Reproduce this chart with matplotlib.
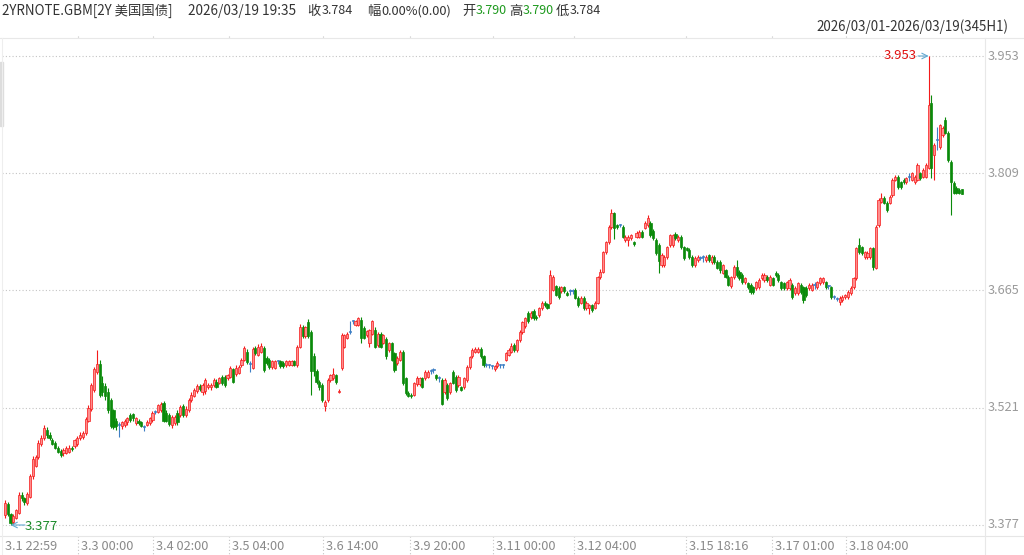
import numpy as np
import matplotlib
matplotlib.use('Agg')
import matplotlib.pyplot as plt
from matplotlib.patches import Rectangle
from matplotlib.lines import Line2D

plt.rcParams['font.family'] = ['Noto Sans CJK SC', 'DejaVu Sans']

# ---- data (prices in thousandths) ----
OPEN_M = [
3389,3403,3390,3381,3386,3392,3414,3410,3404,3412,
3437,3450,3460,3476,3484,3494,3488,3482,3478,3472,
3468,3465,3466,3467,3472,3474,3476,3484,3485,3490,
3505,3519,3543,3565,3575,3552,3548,3540,3530,3518,
3505,3500,3498,3500,3503,3512,3513,3502,3505,3503,
3497,3500,3502,3506,3516,3516,3518,3527,3515,3512,
3500,3502,3515,3512,3523,3512,3518,3530,3536,3541,
3548,3540,3541,3546,3546,3549,3553,3552,3559,3559,
3557,3559,3568,3563,3564,3573,3580,3590,3575,3570,
3594,3586,3590,3594,3582,3580,3571,3570,3578,3578,
3576,3573,3574,3574,3578,3573,3596,3620,3609,3626,
3614,3584,3566,3553,3549,3523,3530,3555,3557,3561,
3540,3570,3596,3607,3614,3627,3623,3623,3629,3619,
3610,3601,3612,3617,3598,3612,3601,3606,3592,3600,
3588,3576,3580,3590,3557,3539,3537,3537,3550,3550,
3557,3557,3559,3566,3567,3561,3557,3555,3540,3549,
3540,3565,3559,3549,3546,3546,3555,3571,3584,3590,
3590,3593,3584,3574,3573,3572,3569,3572,3573,3573,
3580,3586,3590,3598,3592,3604,3614,3621,3637,3632,
3640,3633,3635,3643,3650,3648,3650,3666,3670,3668,
3664,3669,3662,3664,3664,3666,3656,3650,3656,3643,
3644,3647,3644,3650,3681,3688,3712,3724,3743,3760,
3745,3745,3743,3727,3727,3729,3724,3731,3731,3737,
3742,3745,3748,3738,3727,3721,3696,3696,3706,3721,
3721,3735,3727,3731,3718,3717,3715,3706,3696,3702,
3705,3706,3702,3708,3700,3706,3700,3700,3687,3690,
3682,3670,3681,3694,3688,3684,3675,3674,3672,3669,
3668,3669,3680,3678,3682,3672,3680,3686,3684,3675,
3674,3668,3668,3672,3662,3662,3672,3669,3668,3668,
3666,3672,3669,3674,3675,3675,3670,3669,3657,3655,
3651,3653,3657,3657,3662,3669,3680,3721,3718,3706,
3706,3706,3717,3693,3745,3774,3779,3773,3773,3782,
3801,3805,3798,3801,3798,3804,3801,3798,3801,3809,
3805,3805,3816,3895,3831,3850,3841,3856,3874,3859,
3823,3797,3791,3789,3790]

HIGH_M = [
3408,3405,3392,3390,3397,3418,3417,3412,3418,3440,
3462,3463,3482,3488,3500,3497,3491,3484,3480,3474,
3470,3471,3474,3475,3474,3483,3486,3491,3492,3510,
3524,3552,3571,3592,3580,3560,3552,3545,3533,3520,
3508,3503,3505,3507,3510,3514,3515,3510,3507,3505,
3500,3506,3510,3517,3518,3526,3528,3529,3518,3515,
3512,3512,3518,3524,3525,3523,3533,3540,3545,3550,
3550,3551,3557,3551,3551,3557,3556,3559,3561,3561,
3563,3572,3570,3573,3574,3582,3597,3593,3578,3596,
3597,3599,3600,3597,3584,3582,3580,3580,3580,3580,
3578,3580,3580,3580,3580,3598,3624,3623,3622,3630,
3616,3588,3568,3555,3552,3530,3557,3563,3570,3563,
3544,3613,3612,3614,3627,3629,3629,3633,3632,3621,
3617,3618,3629,3620,3614,3614,3612,3608,3602,3602,
3590,3584,3592,3592,3559,3541,3539,3553,3560,3559,
3559,3567,3567,3569,3570,3563,3560,3557,3557,3551,
3553,3567,3561,3561,3548,3559,3573,3585,3594,3595,
3595,3595,3586,3576,3575,3574,3574,3578,3575,3575,
3590,3594,3600,3600,3606,3616,3628,3633,3640,3640,
3642,3635,3645,3652,3652,3650,3690,3684,3672,3670,
3671,3671,3664,3667,3667,3668,3658,3658,3658,3652,
3649,3649,3652,3683,3691,3714,3726,3745,3765,3762,
3747,3747,3745,3733,3733,3735,3726,3738,3739,3739,
3750,3758,3750,3740,3729,3723,3711,3708,3720,3735,
3735,3737,3733,3733,3720,3719,3717,3708,3707,3708,
3707,3709,3708,3710,3708,3708,3702,3702,3698,3692,
3684,3683,3696,3703,3690,3686,3682,3676,3674,3671,
3677,3680,3686,3686,3684,3684,3682,3689,3686,3677,
3676,3677,3680,3674,3670,3676,3674,3671,3670,3674,
3674,3676,3677,3682,3682,3677,3672,3671,3659,3657,
3658,3659,3661,3665,3670,3682,3719,3730,3720,3714,
3713,3719,3719,3745,3778,3785,3781,3775,3782,3803,
3807,3807,3800,3803,3805,3809,3811,3807,3821,3811,
3815,3821,3953,3905,3846,3866,3870,3867,3878,3861,
3825,3799,3793,3791,3790]

LOW_M = [
3386,3388,3377,3378,3384,3390,3406,3402,3402,3410,
3433,3448,3458,3474,3482,3484,3481,3475,3470,3465,
3460,3462,3464,3465,3468,3472,3474,3482,3483,3488,
3503,3517,3540,3562,3534,3535,3530,3515,3496,3495,
3494,3485,3495,3497,3500,3504,3505,3500,3500,3497,
3492,3498,3500,3504,3513,3514,3516,3503,3503,3498,
3496,3500,3500,3510,3510,3510,3516,3528,3534,3539,
3542,3537,3538,3544,3543,3547,3545,3550,3549,3547,
3555,3557,3551,3560,3562,3571,3578,3575,3565,3568,
3586,3584,3588,3565,3574,3569,3569,3568,3575,3570,
3570,3571,3572,3572,3572,3571,3594,3607,3607,3607,
3537,3560,3550,3543,3528,3517,3528,3553,3555,3550,
3539,3567,3594,3605,3612,3624,3621,3621,3600,3605,
3608,3595,3610,3594,3596,3594,3599,3581,3590,3578,
3565,3574,3578,3549,3537,3534,3533,3535,3548,3548,
3545,3555,3557,3563,3564,3555,3553,3524,3538,3530,
3538,3550,3540,3547,3541,3544,3553,3569,3582,3588,
3588,3582,3571,3571,3570,3569,3566,3570,3570,3570,
3578,3584,3588,3590,3590,3602,3612,3619,3625,3630,
3629,3629,3633,3641,3645,3642,3648,3664,3658,3655,
3662,3662,3658,3660,3661,3654,3645,3648,3641,3641,
3636,3639,3642,3648,3679,3686,3710,3722,3741,3728,
3741,3743,3729,3725,3720,3727,3720,3729,3729,3729,
3740,3743,3731,3727,3709,3687,3694,3694,3704,3719,
3719,3727,3725,3716,3703,3713,3704,3694,3694,3700,
3703,3700,3700,3700,3698,3698,3691,3686,3685,3680,
3670,3668,3679,3682,3678,3673,3673,3667,3661,3661,
3666,3667,3678,3676,3676,3670,3670,3682,3676,3666,
3666,3666,3666,3655,3660,3660,3661,3650,3657,3666,
3664,3667,3667,3672,3673,3667,3667,3655,3654,3652,
3647,3651,3655,3655,3660,3667,3678,3710,3709,3704,
3704,3704,3690,3691,3743,3772,3771,3762,3771,3780,
3799,3790,3790,3796,3796,3800,3799,3796,3799,3801,
3803,3803,3814,3803,3801,3838,3839,3854,3857,3823,
3758,3783,3783,3783,3784]

CLOSE_M = [
3404,3390,3380,3388,3395,3414,3410,3405,3415,3437,
3458,3460,3478,3484,3496,3487,3484,3477,3472,3467,
3463,3469,3471,3471,3470,3481,3484,3488,3490,3507,
3521,3549,3568,3575,3537,3540,3535,3518,3498,3497,
3498,3500,3503,3505,3508,3506,3508,3508,3502,3499,
3497,3504,3508,3515,3516,3524,3526,3505,3505,3501,
3510,3510,3503,3522,3512,3520,3530,3537,3543,3548,
3544,3549,3555,3549,3549,3555,3547,3557,3551,3549,
3561,3570,3553,3570,3571,3580,3594,3577,3575,3593,
3588,3596,3597,3567,3576,3571,3578,3578,3578,3572,
3572,3578,3578,3578,3574,3596,3620,3609,3620,3609,
3566,3566,3553,3546,3530,3528,3555,3561,3562,3553,
3542,3610,3610,3612,3614,3627,3627,3631,3607,3607,
3615,3616,3627,3596,3612,3596,3610,3584,3600,3580,
3567,3582,3590,3552,3539,3536,3535,3551,3557,3557,
3547,3565,3565,3566,3567,3557,3557,3526,3555,3533,
3551,3552,3543,3559,3543,3557,3571,3583,3592,3593,
3593,3584,3574,3574,3573,3572,3572,3576,3573,3573,
3588,3592,3597,3592,3604,3614,3626,3631,3627,3637,
3631,3631,3643,3650,3647,3644,3684,3681,3660,3657,
3669,3664,3660,3664,3664,3656,3647,3656,3643,3650,
3647,3641,3650,3681,3688,3712,3724,3743,3760,3742,
3743,3745,3731,3731,3731,3733,3722,3736,3737,3731,
3748,3754,3733,3729,3711,3701,3709,3706,3718,3733,
3733,3729,3731,3718,3705,3715,3706,3696,3705,3706,
3705,3706,3706,3702,3706,3700,3693,3690,3696,3682,
3672,3681,3694,3684,3680,3675,3680,3669,3663,3663,
3675,3678,3684,3684,3678,3682,3672,3684,3678,3668,
3668,3675,3678,3657,3668,3674,3663,3653,3659,3672,
3672,3672,3675,3680,3680,3669,3670,3657,3657,3655,
3656,3657,3659,3663,3668,3680,3717,3712,3711,3712,
3711,3717,3694,3743,3776,3779,3773,3764,3780,3801,
3805,3792,3792,3798,3803,3804,3809,3805,3819,3803,
3813,3819,3893,3816,3844,3850,3868,3865,3859,3825,
3798,3785,3785,3785,3784]

Y_TICKS = [3.377, 3.521, 3.665, 3.809, 3.953]
X_TICK_LABELS = ['3.1 22:59', '3.3 00:00', '3.4 02:00', '3.5 04:00', '3.6 14:00',
                 '3.9 20:00', '3.11 00:00', '3.12 04:00', '3.15 18:16', '3.17 01:00',
                 '3.18 04:00']
X_TICK_BARS = [0, 26.2, 53.2, 80.5, 114.3, 145.6, 175.4, 204.5, 244.8, 275.7, 302.3]

O = np.array(OPEN_M) / 1000.0
Hh = np.array(HIGH_M) / 1000.0
Ll = np.array(LOW_M) / 1000.0
C = np.array(CLOSE_M) / 1000.0
n = len(C)

# ---- figure geometry ----
W, H = 1024, 555
fig = plt.figure(figsize=(W / 100, H / 100), dpi=100)
fig.patch.set_facecolor('white')

def fx(px):
    return px / W

def fy(py):
    return 1 - py / H

AX_L, AX_R, AX_T, AX_B = 2, 985, 38, 535
ax = fig.add_axes([fx(AX_L), fy(AX_B), fx(AX_R) - fx(AX_L), fy(AX_T) - fy(AX_B)])
PITCH = 2.782
X0 = 5.0
ax.set_xlim((AX_L - X0) / PITCH, (AX_R - X0) / PITCH)
ppx = (3.953 - 3.377) / (525 - 56)
ax.set_ylim(3.377 - (AX_B - 525) * ppx, 3.953 + (56 - AX_T) * ppx)
for s in ax.spines.values():
    s.set_visible(False)
ax.set_xticks([])
ax.set_yticks([])

# grid
for v in Y_TICKS:
    ax.axhline(v, color='#C4C4C4', lw=0.8, ls=(0, (1, 2)), zorder=0)

def bar_px(b):
    return X0 + PITCH * b

# vertical gridlines in figure coords (extend into label band)
for b in X_TICK_BARS[1:]:
    xp = bar_px(b)
    fig.add_artist(Line2D([fx(xp), fx(xp)], [fy(36), fy(555)], color='#C4C4C4',
                          lw=0.8, ls=(0, (1, 2)), zorder=0))

# frame lines
fig.add_artist(Line2D([0, 1], [fy(37.5), fy(37.5)], color='#E8E8E8', lw=0.8))
fig.add_artist(Line2D([0, 1], [fy(535.5), fy(535.5)], color='#E6E6E6', lw=0.8))
fig.add_artist(Line2D([fx(985), fx(985)], [fy(38), fy(555)], color='#E8E8E8', lw=0.8))
fig.add_artist(Line2D([fx(1.5), fx(1.5)], [fy(38), fy(555)], color='#EEEEEE', lw=0.8))
fig.add_artist(Rectangle((0, fy(126)), fx(2.5), fy(62) - fy(126), color='#DDDDDD',
                         transform=fig.transFigure))

# candles
RED_E, RED_F = '#F41A1A', '#FF8C8C'
GRN = '#0A8A0A'
BLU = '#3E7FC4'
minh = ppx * 1.0
bw = 0.78
for i in range(n):
    o, h, l, c = O[i], Hh[i], Ll[i], C[i]
    if c > o:
        ec, fc = RED_E, RED_F
    elif c < o:
        ec, fc = GRN, GRN
    else:
        ec, fc = BLU, BLU
    ax.vlines(i, l, h, color=ec, lw=0.8, zorder=2)
    lo = min(o, c)
    hgt = max(abs(c - o), minh)
    ax.add_patch(Rectangle((i - bw / 2, lo), bw, hgt, facecolor=fc, edgecolor=ec,
                           lw=0.5, zorder=3))

# max / min markers
imax = int(np.argmax(Hh))
imin = int(np.argmin(Ll))
def px2bar(px):
    return (px - X0) / PITCH
ax.annotate('', xy=(imax, Hh[imax]), xytext=(px2bar(918), Hh[imax]),
            arrowprops=dict(arrowstyle='->', color='#62A8D0', lw=0.8,
                            shrinkA=0, shrinkB=0), zorder=5)
ax.text(px2bar(917), Hh[imax], f'{Hh[imax]:.3f}', color='#E01010', fontsize=9.5,
        ha='right', va='center', zorder=5)
ax.annotate('', xy=(imin, Ll[imin]), xytext=(px2bar(25), Ll[imin]),
            arrowprops=dict(arrowstyle='->', color='#62A8D0', lw=0.8,
                            shrinkA=0, shrinkB=0), zorder=5)
ax.text(px2bar(25), Ll[imin] - 1.5 * ppx, f'{Ll[imin]:.3f}', color='#1A8A2A', fontsize=9.5,
        ha='left', va='center', zorder=5)

# right-side y labels
for v in Y_TICKS:
    ypx = 525 - (v - 3.377) / ppx
    fig.text(fx(988), fy(ypx), f'{v:.3f}', color='#9A9A9A', fontsize=9.2,
             ha='left', va='center')

# x labels
for b, lab in zip(X_TICK_BARS, X_TICK_LABELS):
    xp = bar_px(b)
    xl = 5 if b == 0 else xp + 3
    fig.text(fx(xl), fy(547), lab, color='#8A8A8A', fontsize=9.2, ha='left', va='center')

# header
TXT = '#333333'
GTXT = '#1E9A1E'
hy = fy(11)
hdr = [(2, '2YRNOTE.GBM[2Y 美国国债]', TXT, 9.6), (188, '2026/03/19 19:35', TXT, 9.8),
       (307, '收', TXT, 9.6), (322, '3.784', TXT, 9.0), (367, '幅', TXT, 9.6),
       (381, '0.00%(0.00)', TXT, 9.2),
       (462, '开', TXT, 9.6), (476, '3.790', GTXT, 9.0), (509, '高', TXT, 9.6),
       (523, '3.790', GTXT, 9.0), (556, '低', TXT, 9.6), (570, '3.784', TXT, 9.0)]
for xp, s, col, fs in hdr:
    fig.text(fx(xp), hy, s, color=col, fontsize=fs, ha='left', va='center')
fig.text(fx(1008), fy(27), '2026/03/01-2026/03/19(345H1)', color=TXT, fontsize=9.6,
         ha='right', va='center')

fig.savefig('out.png', dpi=100, facecolor='white')
